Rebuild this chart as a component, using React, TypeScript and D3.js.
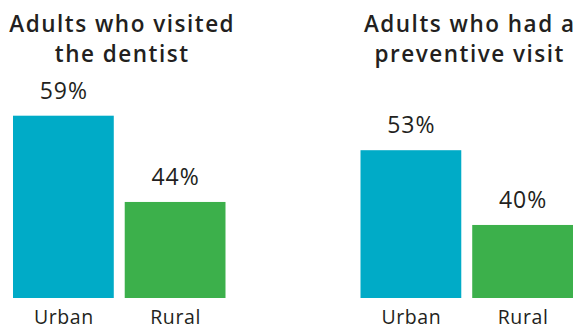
import React from "react";
import * as d3 from "d3";

const panels = ["dentist", "preventive"];
const panelTitles = [
  ["Adults who visited", "the dentist"],
  ["Adults who had a", "preventive visit"],
];
const categories = ["Urban", "Rural"];
const dentistValues = [59, 44];
const preventiveValues = [53, 40];
const seriesValues = [dentistValues, preventiveValues];
const colors = ["#00abc7", "#3cb04b"];

const W = 577;
const H = 329;
const FONT = "'Open Sans', 'DejaVu Sans', sans-serif";

export default function App() {
  const panelX = d3.scaleBand<string>().domain(panels).range([13, 573]).paddingInner(0.3885).paddingOuter(0);
  const y = d3.scaleLinear().domain([27.3, 59]).range([298, 115.7]);

  return (
    <svg width={W} height={H} style={{ position: "absolute", left: 0, top: 0, background: "#fff" }}>
      {panels.map((p, pi) => {
        const x0 = panelX(p) as number;
        const bw = panelX.bandwidth();
        const x = d3.scaleBand<string>().domain(categories).range([x0, x0 + bw]).paddingInner(0.098).paddingOuter(0);
        const cx = x0 + bw / 2 + 3;
        return (
          <g key={p}>
            {panelTitles[pi].map((t, li) => (
              <text key={li} x={cx} y={32 + li * 30} textAnchor="middle" fontFamily={FONT} fontWeight={600}
                fontSize={22.5} fill="#231f20" letterSpacing={1.5}>{t}</text>
            ))}
            {categories.map((c, ci) => {
              const v = seriesValues[pi][ci];
              const bx = x(c) as number;
              return (
                <g key={c}>
                  <rect x={bx} y={y(v)} width={x.bandwidth()} height={y(y.domain()[0]) - y(v)} fill={colors[ci]} />
                  <text x={bx + x.bandwidth() / 2 + 0.5} y={y(v) - 17} textAnchor="middle" fontFamily={FONT}
                    fontSize={23} fill="#231f20" letterSpacing={1}>{v}%</text>
                  <text x={bx + x.bandwidth() / 2 + 0.5} y={324} textAnchor="middle" fontFamily={FONT}
                    fontSize={19.5} fill="#231f20" letterSpacing={0.6}>{c}</text>
                </g>
              );
            })}
          </g>
        );
      })}
    </svg>
  );
}
